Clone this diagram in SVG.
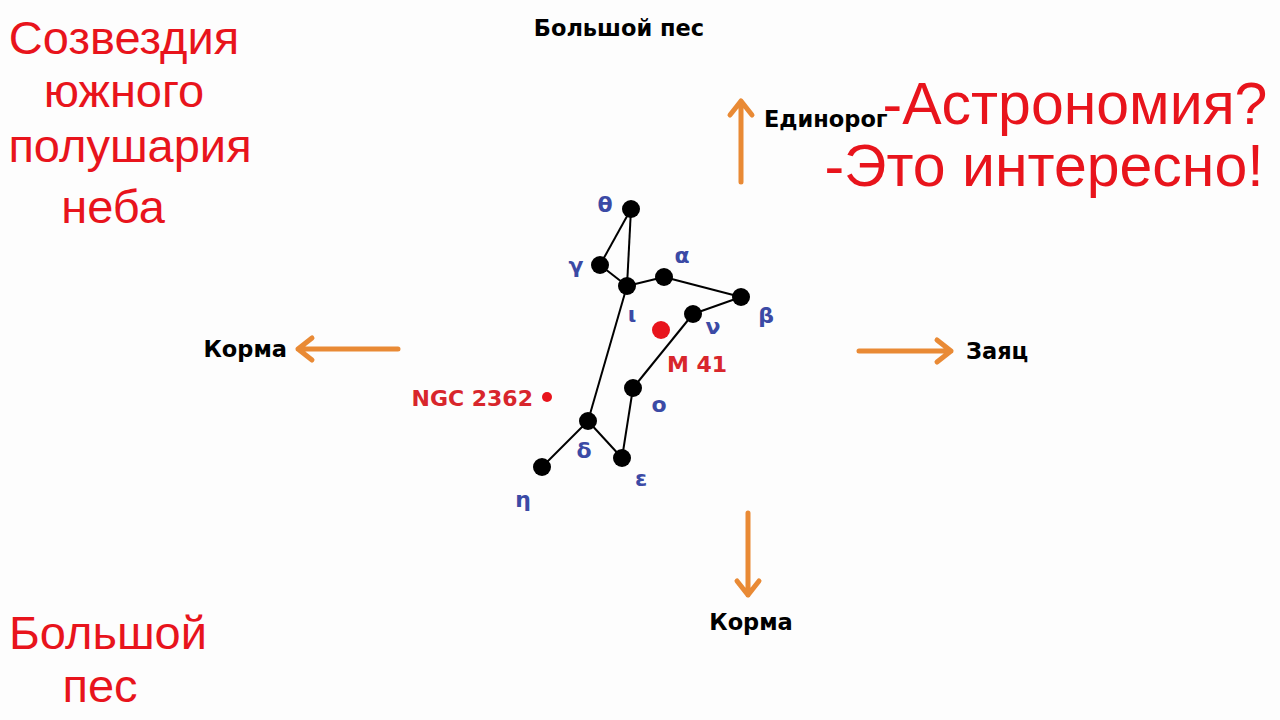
<svg xmlns="http://www.w3.org/2000/svg" width="1280" height="720" viewBox="0 0 1280 720">
<defs>
<style>
.big{font-family:"Liberation Sans",Arial,sans-serif;fill:#e8141c;}
.lbl{font-family:"DejaVu Sans",Verdana,sans-serif;font-weight:bold;font-size:22.5px;fill:#000;}
.gr{font-family:"DejaVu Sans",Verdana,sans-serif;font-weight:bold;font-size:22px;fill:#3b4aa5;}
.red{font-family:"DejaVu Sans",Verdana,sans-serif;font-weight:bold;font-size:22px;fill:#d8262c;}
.arr{stroke:#e98a35;stroke-width:5;stroke-linecap:round;fill:none;stroke-linejoin:round;}
.ln{stroke:#000;stroke-width:2;}
.star{fill:#000;}
</style>
</defs>
<rect width="1280" height="720" fill="#fdfdfd"/>
<g id="titles">
<text class="big" x="124" y="54" font-size="47" text-anchor="middle">Созвездия</text>
<text class="big" x="124" y="107" font-size="47" text-anchor="middle">южного</text>
<text class="big" x="130" y="162" font-size="47" text-anchor="middle">полушария</text>
<text class="big" x="113" y="223" font-size="47" text-anchor="middle">неба</text>
<text class="big" x="108" y="649" font-size="47" text-anchor="middle">Большой</text>
<text class="big" x="100" y="702" font-size="47" text-anchor="middle">пес</text>
<text class="big" x="1075" y="124" font-size="59" text-anchor="middle">-Астрономия?</text>
<text class="big" x="1044" y="186" font-size="59" text-anchor="middle">-Это интересно!</text>
</g>
<g id="connectors">
<line class="ln" x1="631" y1="209" x2="600" y2="265"/>
<line class="ln" x1="631" y1="209" x2="627" y2="286"/>
<line class="ln" x1="600" y1="265" x2="627" y2="286"/>
<line class="ln" x1="627" y1="286" x2="664" y2="277"/>
<line class="ln" x1="664" y1="277" x2="741" y2="297"/>
<line class="ln" x1="741" y1="297" x2="693" y2="314"/>
<line class="ln" x1="693" y1="314" x2="633" y2="388"/>
<line class="ln" x1="633" y1="388" x2="622" y2="458"/>
<line class="ln" x1="622" y1="458" x2="588" y2="421"/>
<line class="ln" x1="588" y1="421" x2="542" y2="467"/>
<line class="ln" x1="627" y1="286" x2="588" y2="421"/>
</g>
<g id="arrows">
<path class="arr" d="M741 182 V101 M730 115 L741 101 L752 115"/>
<path class="arr" d="M398 349 H298 M312 338 L298 349 L312 360"/>
<path class="arr" d="M859 351 H951 M937 340 L951 351 L937 362"/>
<path class="arr" d="M748 513 V595 M737 581 L748 595 L759 581"/>
</g>
<g id="stars">
<circle class="star" cx="631" cy="209" r="9"/>
<circle class="star" cx="600" cy="265" r="9"/>
<circle class="star" cx="627" cy="286" r="9"/>
<circle class="star" cx="664" cy="277" r="9"/>
<circle class="star" cx="741" cy="297" r="9"/>
<circle class="star" cx="693" cy="314" r="9"/>
<circle class="star" cx="633" cy="388" r="9"/>
<circle class="star" cx="588" cy="421" r="9"/>
<circle class="star" cx="622" cy="458" r="9"/>
<circle class="star" cx="542" cy="467" r="9"/>
<circle cx="661" cy="330" r="9" fill="#e8141c"/>
<circle cx="547" cy="397" r="5" fill="#e8141c"/>
</g>
<g id="star-labels">
<text class="gr" x="605" y="212" text-anchor="middle">θ</text>
<text class="gr" x="576" y="273" text-anchor="middle">γ</text>
<text class="gr" x="682" y="263" text-anchor="middle">α</text>
<text class="gr" x="632" y="322" text-anchor="middle">ι</text>
<text class="gr" x="766" y="323" text-anchor="middle">β</text>
<text class="gr" x="713" y="334" text-anchor="middle">ν</text>
<text class="gr" x="659" y="412" text-anchor="middle">ο</text>
<text class="gr" x="584" y="458" text-anchor="middle">δ</text>
<text class="gr" x="641" y="486" text-anchor="middle">ε</text>
<text class="gr" x="523" y="507" text-anchor="middle">η</text>
<text class="red" x="697" y="372" text-anchor="middle" font-size="21">M 41</text>
<text class="red" x="533" y="406" text-anchor="end" font-size="23">NGC 2362</text>
</g>
<g id="direction-labels">
<text class="lbl" x="619" y="36" text-anchor="middle">Большой пес</text>
<text class="lbl" x="764" y="127">Единорог</text>
<text class="lbl" x="287" y="357" text-anchor="end">Корма</text>
<text class="lbl" x="966" y="359">Заяц</text>
<text class="lbl" x="751" y="630" text-anchor="middle">Корма</text>
</g>
</svg>
